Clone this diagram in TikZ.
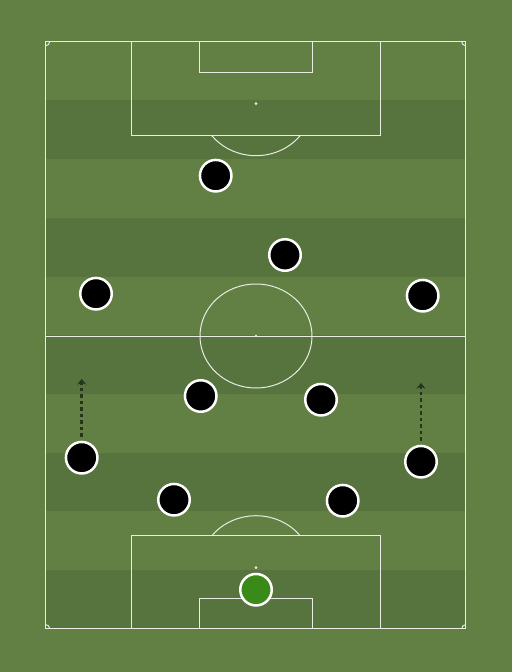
\documentclass[tikz,border=0pt]{standalone}
\usetikzlibrary{arrows.meta,shadows}
\definecolor{grass}{RGB}{98,128,67}
\definecolor{stripe}{RGB}{88,116,62}
\definecolor{chalk}{RGB}{232,236,226}
\definecolor{keeper}{RGB}{58,138,26}
\definecolor{runline}{RGB}{38,52,28}

\begin{document}
\begin{tikzpicture}[x=1pt,y=-1pt,
  line/.style={draw=chalk,line width=1pt},
  player/.style={circle,fill=black,draw=white,line width=2.5pt,minimum size=31.5pt,inner sep=0pt,
    circular drop shadow={shadow xshift=0pt,shadow yshift=-1pt,opacity=0.25,shadow scale=1.03}},
  run/.style={draw=runline,line width=2.8pt,dash pattern=on 3.5pt off 3pt,
    -{Stealth[length=5.5pt,width=9pt]},shorten <=4pt}]
\useasboundingbox (0,0) rectangle (512,672);
\fill[grass] (0,0) rectangle (512,672);
\foreach \k in {0,...,4}
  \fill[stripe] (45.7,{41.7+58.7*(2*\k+1)}) rectangle ++(420,58.7);

% pitch
\draw[line] (45.7,41.7) rectangle (465.7,628.7);
\draw[line] (45.7,336) -- (465.7,336);
\draw[line] (256,336) ellipse [x radius=56,y radius=52];
\draw[line] (131.3,41.7) rectangle (380.7,135.3);
\draw[line] (199.3,41.7) rectangle (312.3,72.7);
\draw[line] (131.3,628.7) rectangle (380.7,535.7);
\draw[line] (199.3,628.7) rectangle (312.3,598.3);
\draw[line] (300.1,135.7) arc[start angle=38,end angle=142,x radius=56,y radius=52];
\draw[line] (300.1,535.7) arc[start angle=-38,end angle=-142,x radius=56,y radius=52];
\fill[chalk] (256,103.7) circle[radius=1.5];
\fill[chalk] (256,336) circle[radius=1.3];
\fill[chalk] (256,567.7) circle[radius=1.5];
% corners
\draw[line] (49.7,41.7) arc[start angle=0,end angle=90,radius=4];
\draw[line] (461.7,41.7) arc[start angle=180,end angle=90,radius=4];
\draw[line] (49.7,628.7) arc[start angle=0,end angle=-90,radius=4];
\draw[line] (461.7,628.7) arc[start angle=180,end angle=270,radius=4];

% players
\node[player] (st) at (215.7,175.7) {};
\node[player] (am) at (285,255) {};
\node[player] (lw) at (96,293.7) {};
\node[player] (rw) at (422.7,295.7) {};
\node[player] (lcm) at (200.7,396) {};
\node[player] (rcm) at (321,399.7) {};
\node[player] (lwb) at (81.7,457.7) {};
\node[player] (rwb) at (421,461.7) {};
\node[player] (lcb) at (174,499.7) {};
\node[player] (rcb) at (342.7,500.7) {};
\node[player,fill=keeper] (gk) at (256,589.7) {};

% runs
\coordinate (lwbto) at (81.7,379);
\coordinate (rwbto) at (421,383);
\draw[run] (lwb) -- (lwbto);
\draw[run] (rwb) -- (rwbto);
\end{tikzpicture}
\end{document}
